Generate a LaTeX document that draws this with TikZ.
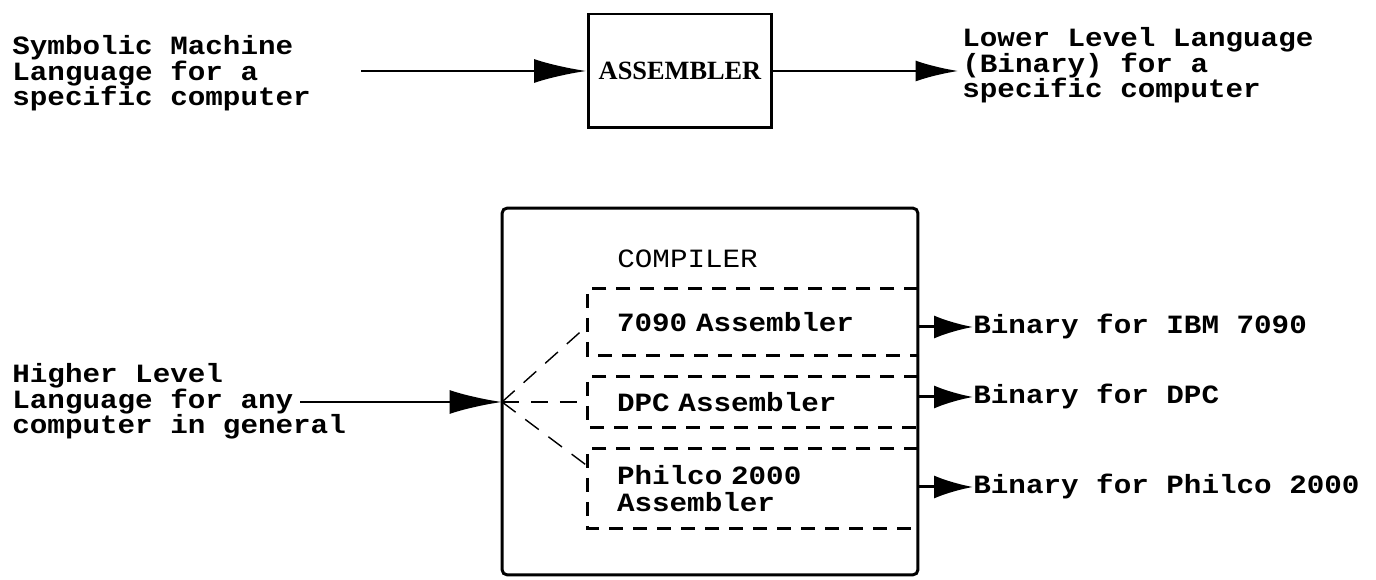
\documentclass[tikz,border=0pt]{standalone}
\usepackage{fontspec}
\newfontfamily\typew[FakeStretch=1.11]{Liberation Mono}
\newfontfamily\romanb{Liberation Serif}
\usetikzlibrary{arrows.meta,calc}
\setlength{\lineskiplimit}{-20pt}

\tikzset{
    txt/.style={font=\typew\bfseries\fontsize{15}{14.6}\selectfont,
        align=left, inner sep=0pt, anchor=north west},
    solid box/.style={draw, line width=1.7pt},
    sub box/.style={font=\typew\bfseries\fontsize{15}{15.8}\selectfont,
        align=left, inner ysep=0pt, inner xsep=0.58cm, minimum width=6.6cm, text width=5.44cm},
    dash line/.style={line width=1.4pt, dash pattern=on 0.28cm off 0.2cm},
    fan line/.style={line width=0.8pt, dash pattern=on 0.34cm off 0.24cm},
    big arr/.style={line width=1.7pt, -{Latex[length=1.05cm,width=0.48cm]}},
    out arr/.style={line width=1.7pt, -{Latex[length=0.78cm,width=0.46cm]}}
}

\begin{document}
\begin{tikzpicture}[x=0.02cm, y=-0.02cm]
    \useasboundingbox (0,0) rectangle (1376,580);
    % assembler row
    \node[txt] (sml) at (12,35) {Symbolic Machine\\Language for a\\specific computer};
    \node[solid box, minimum width=3.68cm, minimum height=2.28cm,
        font=\romanb\bfseries\fontsize{15}{18}\selectfont] (asm) at (680,71) {ASSEMBLER};
    \node[txt] (lll) at (962,27) {Lower Level Language\\(Binary) for a\\specific computer};
    \draw[big arr, shorten <=1cm] (sml.east |- asm.west) -- (asm.west);
    \draw[big arr, -{Latex[length=0.86cm,width=0.42cm]}, shorten >=2pt] (asm.east) -- (lll.west |- asm.east);

    % compiler row
    \node[solid box, rounded corners=3pt, minimum width=8.32cm, minimum height=7.34cm] (comp) at (710,391.5) {};
    \node[txt, anchor=base west, font=\typew\fontsize{15}{14.6}\selectfont] (ctitle) at (617,268) {COMPILER};
    \node[sub box, minimum height=1.32cm] (b1) at (753,322) {7090 Assembler};
    \node[sub box, minimum height=1.0cm] (b2) at (753,402) {DPC Assembler};
    \node[sub box, minimum height=1.58cm] (b3) at (753,488.5) {Philco 2000\\Assembler};
    \foreach \b in {b1,b2,b3}
        \draw[dash line] (\b.north east) -- (\b.north west) -- (\b.south west) -- (\b.south east);

    \node[txt] (hll) at (12,363) {Higher Level\\Language for any\\computer in general};
    \coordinate (hllend) at (300,402);
    \coordinate (hub) at (502,402);
    \draw[big arr] (hllend) -- (hub);
    \draw[fan line] (hub) -- ($(b1.north west)!0.55!(b1.south west)$);
    \draw[fan line] (hub) -- (b2.west);
    \draw[fan line] (hub) -- ($(b3.north west)!0.22!(b3.south west)$);

    \node[txt, anchor=base west] (o1) at (973,334) {Binary for IBM 7090};
    \node[txt, anchor=base west] (o2) at (973,404) {Binary for DPC};
    \node[txt, anchor=base west] (o3) at (973,494) {Binary for Philco 2000};
    \foreach \o in {o1,o2,o3}
        \draw[out arr] (\o.west -| comp.east) -- (\o.west);
\end{tikzpicture}
\end{document}
